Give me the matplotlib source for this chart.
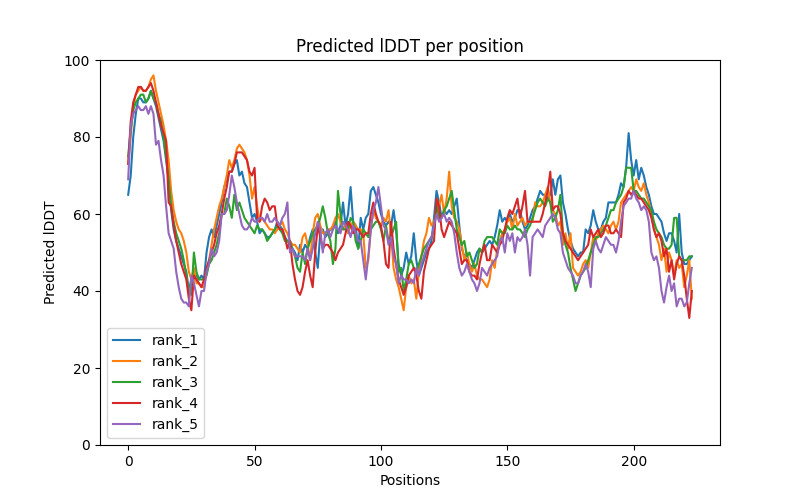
import numpy as np
import matplotlib
matplotlib.use("Agg")
import matplotlib.pyplot as plt

# Predicted lDDT per position
rank_1 = [
    65, 70, 80, 86, 90, 90, 89, 89, 90, 92, 90, 88, 85, 82, 79, 74,
    69, 61, 56, 53, 51, 49, 47, 45, 40, 43, 44, 44, 43, 44, 43, 50,
    54, 56, 54, 57, 60, 63, 67, 69, 71, 71, 73, 74, 70, 71, 68, 67,
    63, 59, 60, 58, 55, 56, 55, 54, 54, 55, 56, 58, 57, 56, 54, 53,
    52, 51, 50, 48, 52, 50, 52, 51, 54, 56, 50, 46, 55, 56, 54, 55,
    56, 56, 58, 55, 57, 63, 57, 60, 67, 58, 57, 51, 59, 56, 59, 60,
    66, 67, 65, 63, 60, 58, 57, 58, 57, 61, 56, 47, 44, 46, 50, 47,
    49, 55, 48, 44, 46, 48, 50, 51, 53, 59, 66, 63, 59, 61, 60, 61,
    60, 62, 64, 57, 51, 49, 48, 47, 46, 48, 50, 51, 50, 51, 52, 53,
    52, 54, 57, 61, 58, 59, 58, 60, 58, 59, 61, 61, 58, 56, 57, 59,
    61, 62, 64, 66, 65, 65, 64, 65, 69, 65, 69, 70, 63, 60, 56, 53,
    51, 50, 49, 50, 50, 56, 55, 57, 61, 58, 56, 56, 58, 59, 63, 63,
    63, 63, 65, 68, 67, 72, 81, 74, 70, 74, 69, 72, 70, 67, 65, 62,
    60, 60, 59, 58, 55, 53, 55, 55, 53, 50, 60, 50, 47, 47, 48, 49,
]
rank_2 = [
    73, 80, 88, 91, 92, 93, 92, 92, 93, 95, 96, 92, 89, 86, 83, 79,
    74, 66, 61, 58, 56, 55, 53, 50, 45, 43, 46, 42, 42, 41, 41, 45,
    48, 52, 56, 59, 62, 64, 67, 70, 74, 72, 74, 77, 78, 77, 76, 74,
    70, 64, 67, 62, 58, 59, 58, 57, 56, 56, 55, 56, 57, 58, 56, 55,
    53, 52, 52, 51, 50, 54, 55, 52, 48, 55, 59, 60, 57, 55, 55, 56,
    56, 57, 59, 60, 58, 56, 57, 55, 57, 58, 57, 56, 56, 55, 46, 48,
    56, 61, 59, 58, 57, 59, 58, 61, 55, 46, 43, 41, 38, 35, 41, 44,
    42, 43, 38, 45, 49, 53, 55, 59, 57, 58, 60, 62, 65, 60, 64, 71,
    62, 59, 58, 56, 52, 48, 50, 47, 45, 47, 44, 43, 43, 42, 41, 43,
    48, 46, 51, 53, 55, 56, 58, 59, 56, 60, 57, 58, 59, 57, 58, 58,
    58, 63, 62, 62, 63, 65, 67, 63, 61, 60, 57, 58, 52, 55, 51, 55,
    46, 45, 44, 45, 47, 48, 46, 50, 54, 53, 55, 56, 57, 56, 55, 57,
    58, 56, 58, 63, 64, 65, 66, 67, 66, 69, 67, 66, 68, 65, 63, 60,
    56, 54, 52, 48, 51, 45, 50, 48, 44, 48, 46, 47, 41, 44, 48, 38,
]
rank_3 = [
    75, 82, 87, 89, 90, 91, 91, 89, 90, 92, 90, 89, 86, 84, 80, 75,
    69, 62, 58, 55, 53, 51, 48, 44, 40, 39, 50, 45, 43, 43, 43, 44,
    47, 48, 50, 52, 55, 60, 60, 64, 62, 59, 65, 61, 63, 61, 59, 58,
    57, 56, 55, 57, 56, 56, 55, 53, 54, 55, 56, 57, 56, 55, 53, 53,
    53, 51, 49, 46, 45, 50, 47, 51, 53, 55, 56, 57, 59, 62, 59, 55,
    53, 47, 51, 66, 60, 56, 56, 56, 59, 58, 53, 51, 53, 56, 55, 54,
    56, 57, 58, 58, 56, 53, 57, 53, 54, 56, 58, 45, 46, 40, 43, 47,
    48, 46, 45, 47, 49, 51, 52, 53, 54, 56, 63, 59, 59, 61, 62, 64,
    66, 61, 56, 54, 52, 53, 49, 50, 48, 46, 47, 51, 50, 53, 54, 54,
    54, 53, 52, 56, 55, 55, 57, 56, 56, 57, 56, 56, 55, 54, 56, 57,
    59, 61, 63, 64, 63, 62, 64, 63, 58, 59, 61, 65, 55, 52, 50, 46,
    43, 40, 42, 44, 45, 46, 48, 50, 52, 54, 54, 55, 56, 57, 59, 61,
    61, 63, 64, 65, 67, 72, 72, 72, 66, 66, 65, 64, 64, 63, 62, 61,
    58, 56, 55, 54, 52, 51, 51, 52, 59, 59, 49, 48, 48, 48, 49, 49,
]
rank_4 = [
    73, 84, 89, 91, 93, 93, 92, 92, 93, 94, 92, 89, 86, 83, 81, 79,
    63, 62, 57, 53, 50, 47, 45, 43, 38, 35, 44, 43, 42, 41, 43, 46,
    48, 50, 52, 55, 57, 60, 64, 67, 71, 71, 73, 76, 76, 76, 75, 74,
    71, 70, 72, 59, 58, 62, 64, 63, 61, 62, 62, 57, 56, 56, 54, 51,
    53, 47, 43, 40, 39, 41, 45, 48, 44, 41, 50, 57, 54, 51, 52, 52,
    51, 50, 48, 50, 51, 52, 55, 58, 57, 55, 56, 56, 55, 54, 55, 55,
    60, 63, 60, 58, 57, 53, 47, 46, 58, 51, 47, 43, 41, 39, 41, 44,
    45, 46, 44, 40, 38, 45, 48, 51, 52, 53, 64, 62, 56, 54, 56, 58,
    57, 56, 55, 51, 47, 48, 48, 45, 44, 44, 43, 47, 50, 52, 48, 48,
    52, 51, 50, 52, 53, 56, 59, 61, 60, 62, 64, 59, 62, 66, 58, 58,
    58, 58, 58, 58, 60, 63, 66, 71, 61, 62, 62, 60, 55, 53, 52, 51,
    50, 49, 48, 49, 50, 51, 52, 56, 54, 55, 56, 54, 55, 57, 57, 55,
    55, 56, 55, 54, 63, 64, 66, 65, 66, 65, 64, 64, 63, 62, 61, 59,
    56, 54, 55, 53, 49, 51, 45, 48, 43, 47, 49, 48, 44, 38, 33, 40,
]
rank_5 = [
    69, 83, 86, 87, 88, 87, 87, 88, 86, 88, 86, 78, 79, 74, 70, 62,
    55, 53, 51, 45, 41, 38, 37, 37, 36, 44, 42, 39, 36, 40, 40, 45,
    47, 51, 49, 50, 53, 60, 60, 61, 65, 70, 67, 63, 60, 57, 56, 56,
    57, 59, 58, 58, 59, 59, 58, 60, 58, 58, 59, 58, 57, 59, 60, 63,
    50, 51, 49, 49, 49, 49, 48, 51, 48, 51, 55, 58, 56, 50, 55, 56,
    54, 56, 57, 56, 55, 58, 57, 56, 54, 57, 55, 53, 53, 48, 43, 49,
    56, 61, 63, 67, 62, 57, 56, 52, 54, 49, 47, 42, 44, 43, 43, 42,
    43, 42, 46, 44, 47, 49, 51, 53, 54, 57, 60, 58, 59, 60, 58, 59,
    58, 55, 50, 46, 44, 45, 47, 45, 43, 42, 40, 42, 46, 45, 44, 46,
    47, 48, 49, 53, 54, 50, 55, 53, 55, 50, 54, 53, 54, 56, 52, 44,
    54, 55, 56, 55, 54, 57, 58, 59, 60, 59, 56, 55, 50, 48, 46, 45,
    44, 42, 42, 44, 45, 47, 45, 41, 51, 53, 51, 50, 52, 54, 53, 52,
    52, 50, 53, 58, 62, 63, 64, 64, 66, 64, 63, 61, 62, 61, 58, 50,
    48, 49, 46, 40, 37, 41, 44, 40, 42, 36, 38, 38, 36, 37, 42, 46,
]
series = [rank_1, rank_2, rank_3, rank_4, rank_5]
labels = ["rank_1", "rank_2", "rank_3", "rank_4", "rank_5"]

plt.figure(figsize=(8, 5), dpi=100)
plt.title("Predicted lDDT per position")
for vals, lab in zip(series, labels):
    plt.plot(np.arange(len(vals)), vals, label=lab)
plt.legend()
plt.ylim(0, 100)
plt.ylabel("Predicted lDDT")
plt.xlabel("Positions")
plt.savefig("out.png", dpi=100)
